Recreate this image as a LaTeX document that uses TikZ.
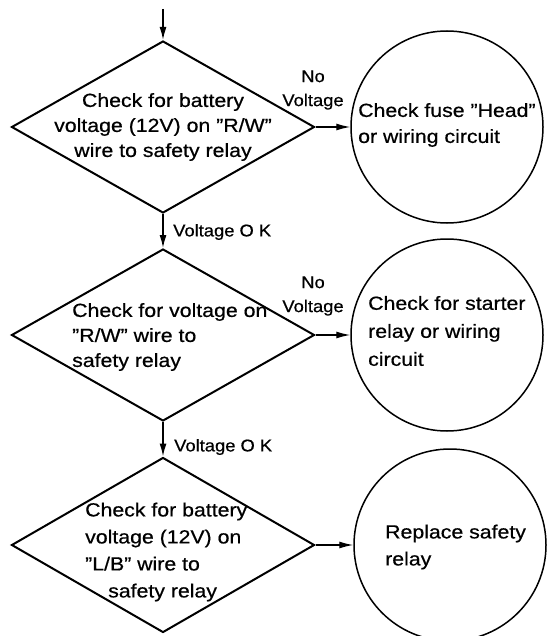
\documentclass[tikz,border=0pt]{standalone}
\usepackage{fontspec}
\setmainfont{Liberation Sans}[FakeStretch=1.12,FakeBold=0.6]
\newfontfamily\labfont{Liberation Sans}[FakeStretch=1.08,FakeBold=0.6]
\usetikzlibrary{shapes.geometric,arrows.meta}
\begin{document}
\begin{tikzpicture}[x=1pt,y=-1pt,
  dia/.style={draw, line width=2pt, diamond, minimum width=303pt, minimum height=172pt, inner sep=0pt},
  circ/.style={draw, line width=1.5pt, circle, inner sep=0pt, minimum size=192pt},
  txt/.style={inner sep=0pt, font=\fontsize{19}{25}\selectfont},
  lab/.style={inner sep=0pt, font=\labfont\fontsize{17}{24}\selectfont},
  arr/.style={line width=1.5pt, -{Latex[length=13pt,width=7pt]}},
  harr/.style={line width=1.2pt, -{Latex[length=14pt,width=7pt]}}
]
\useasboundingbox (0,0) rectangle (546,636);
% shapes
\node[dia] (d1) at (163,127) {};
\node[dia] (d2) at (163,335) {};
\node[dia, minimum height=175pt] (d3) at (163,545) {};
\node[circ] (c1) at (447,127) {};
\node[circ] (c2) at (447,335) {};
\node[circ] (c3) at (450,545) {};
\coordinate (start) at (163,9);
% connectors
\draw[arr] (start) -- (d1.north);
\draw[arr] (d1.south) -- (d2.north);
\draw[arr] (d2.south) -- (d3.north);
\draw[harr] (d1.east) -- (c1.west);
\draw[harr] (d2.east) -- (c2.west);
\draw[harr] (d3.east) -- (c3.west);
% texts
\node[txt, align=center] (t1) at (163,127) {Check for battery\\voltage (12V) on ''R/W''\\wire to safety relay};
\node[txt, align=left, anchor=west] (t2) at (72,337) {Check for voltage on\\''R/W'' wire to\\safety relay};
\node[txt, align=left, anchor=west, font=\fontsize{19}{27}\selectfont] (t3) at (85,552) {Check for battery\\voltage (12V) on\\''L/B'' wire to\\\hspace*{23pt}safety relay};
\node[txt, align=left, anchor=west, font=\fontsize{19}{26}\selectfont] (u1) at (358,125) {Check fuse ''Head''\\or wiring circuit};
\node[txt, align=left, anchor=west, font=\fontsize{19}{28}\selectfont] (u2) at (368,331) {Check for starter\\relay or wiring\\circuit};
\node[txt, align=left, anchor=west, font=\fontsize{19}{27}\selectfont] (u3) at (385,547) {Replace safety\\relay};
% labels
\node[lab, align=center] (l1) at (313,90) {No\\Voltage};
\node[lab, align=center] (l2) at (313,296) {No\\Voltage};
\node[lab, anchor=west] (l3) at (173,232) {Voltage O K};
\node[lab, anchor=west] (l4) at (174,447) {Voltage O K};
\end{tikzpicture}
\end{document}
